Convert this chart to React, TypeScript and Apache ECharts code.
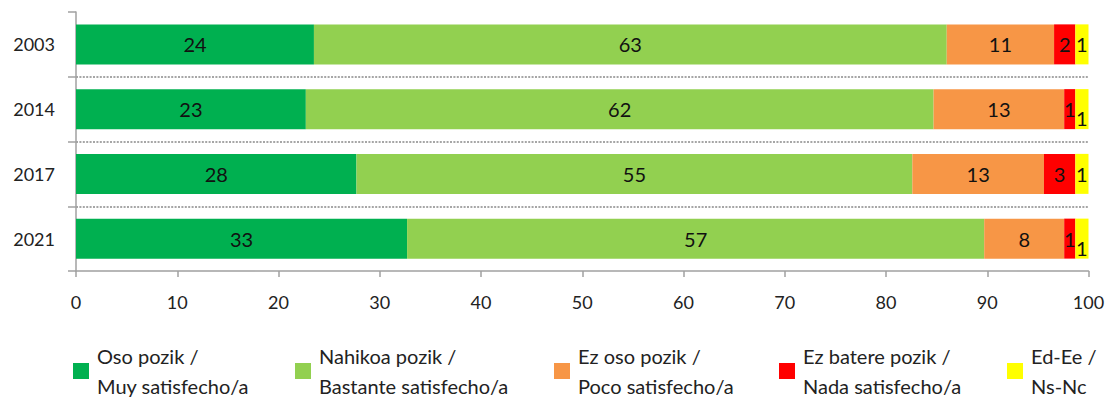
import React, { useEffect, useRef } from "react";
import * as echarts from "echarts";

const years = ["2003", "2014", "2017", "2021"];
const xTicks = { min: 0, max: 100, interval: 10 };

const seriesNames = [
  "Oso pozik /\nMuy satisfecho/a",
  "Nahikoa pozik /\nBastante satisfecho/a",
  "Ez oso pozik /\nPoco satisfecho/a",
  "Ez batere pozik /\nNada satisfecho/a",
  "Ed-Ee /\nNs-Nc",
];

const osoPozik = [23.5, 22.7, 27.7, 32.7];
const nahikoaPozik = [62.5, 62.0, 54.9, 57.0];
const ezOsoPozik = [10.6, 12.9, 13.0, 7.9];
const ezBaterePozik = [2.1, 1.1, 3.1, 1.1];
const edEe = [1.3, 1.3, 1.3, 1.3];

const seriesValues = [osoPozik, nahikoaPozik, ezOsoPozik, ezBaterePozik, edEe];
const colors = ["#00B050", "#92D050", "#F79646", "#FF0000", "#FFFF00"];
const legendLeft = [73, 295, 554, 779, 1007];

export default function App() {
  const ref = useRef<HTMLDivElement>(null);

  useEffect(() => {
    document.body.style.margin = "0";
    if (!ref.current) return;
    const chart = echarts.init(ref.current, undefined, { renderer: "svg" });
    const font = "Lato";
    const axisColor = "#a0a0a0";

    const series = seriesValues.map((vals, si) => ({
      name: seriesNames[si],
      type: "bar",
      stack: "total",
      barWidth: 40,
      itemStyle: { color: colors[si] },
      label: {
        show: true,
        position: "inside",
        fontFamily: font,
        fontSize: 20,
        color: "#111",
        formatter: (p: any) => String(Math.round(p.value)),
      },
      data: vals.map((v, i) => {
        // Excel moves overlapping tiny labels down slightly
        const overlap = si === 4 && ezBaterePozik[i] < 1.5;
        return overlap ? { value: v, label: { offset: [0, 9] } } : v;
      }),
    }));

    const legends = seriesNames.map((name, si) => ({
      data: [{ name }],
      left: legendLeft[si],
      top: 326,
      padding: 0,
      itemWidth: 16,
      itemHeight: 16,
      icon: "rect",
      selectedMode: false,
      textStyle: {
        fontFamily: font,
        fontSize: 20,
        lineHeight: 30,
        color: "#222",
        padding: [30, 0, 0, 3],
      },
    }));

    chart.setOption({
      animation: false,
      textStyle: { fontFamily: font },
      color: colors,
      legend: legends,
      grid: { left: 76, right: 21.5, top: 12, bottom: 134 },
      xAxis: {
        type: "value",
        min: xTicks.min,
        max: xTicks.max,
        interval: xTicks.interval,
        axisLine: { show: true, lineStyle: { color: axisColor, width: 1.5 } },
        axisTick: { show: true, length: 6, lineStyle: { color: axisColor, width: 1.5 } },
        splitLine: { show: false },
        axisLabel: { fontFamily: font, fontSize: 18, color: "#222", margin: 22 },
      },
      yAxis: {
        type: "category",
        data: years,
        inverse: true,
        axisLine: { show: true, lineStyle: { color: axisColor, width: 1.5 } },
        axisTick: { show: true, length: 8, lineStyle: { color: axisColor, width: 1.5 } },
        splitLine: {
          show: true,
          showMinLine: false,
          showMaxLine: false,
          lineStyle: { color: "#a6a6a6", width: 2, type: [2, 1.4] },
        },
        axisLabel: { fontFamily: font, fontSize: 18, color: "#222", margin: 21 },
      },
      series,
    });

    return () => chart.dispose();
  }, []);

  return <div ref={ref} style={{ width: 1110, height: 405 }} />;
}
